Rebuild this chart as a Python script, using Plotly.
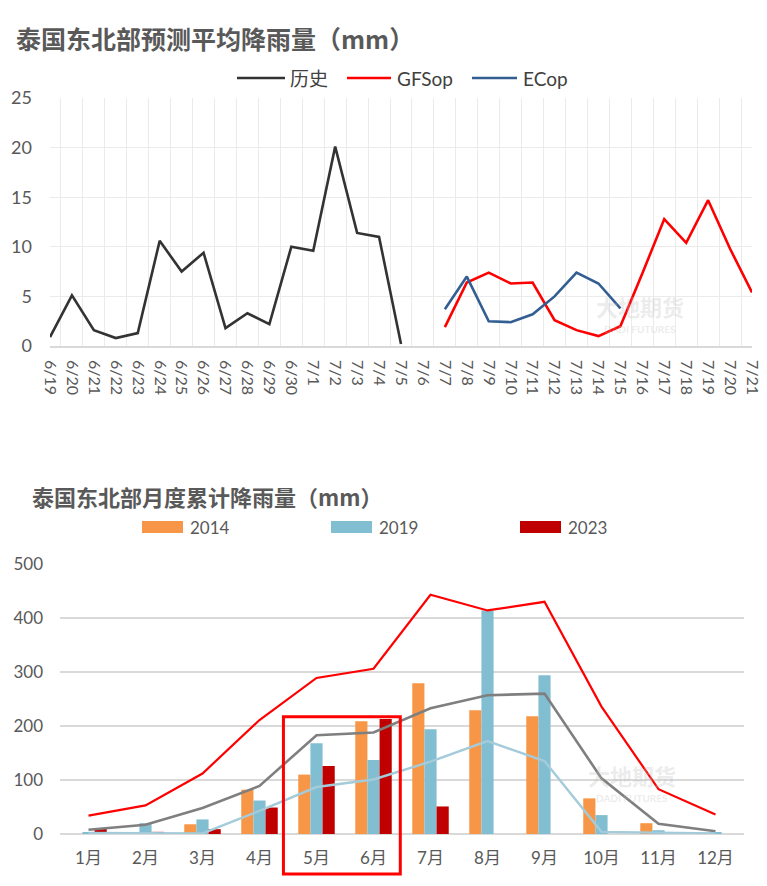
import plotly.graph_objects as go

# ---------------- data: top chart ----------------
dates = ["6/19", "6/20", "6/21", "6/22", "6/23", "6/24", "6/25", "6/26", "6/27", "6/28",
         "6/29", "6/30", "7/1", "7/2", "7/3", "7/4", "7/5", "7/6", "7/7", "7/8", "7/9",
         "7/10", "7/11", "7/12", "7/13", "7/14", "7/15", "7/16", "7/17", "7/18", "7/19",
         "7/20", "7/21"]
hist = [0.9, 5.1, 1.6, 0.8, 1.3, 10.6, 7.5, 9.4, 1.8, 3.3, 2.2, 10.0, 9.6, 20.1, 11.4, 11.0, 0.2,
        None, None, None, None, None, None, None, None, None, None, None, None, None, None, None, None]
gfs = [None] * 18 + [1.9, 6.4, 7.4, 6.3, 6.4, 2.6, 1.6, 1.0, 2.0, 7.3, 12.8, 10.4, 14.7, 9.8, 5.4]
ecm = [None] * 18 + [3.7, 7.0, 2.5, 2.4, 3.2, 5.0, 7.4, 6.3, 3.8] + [None] * 6

# ---------------- data: bottom chart ----------------
months = ["1月", "2月", "3月", "4月", "5月", "6月", "7月", "8月", "9月", "10月", "11月", "12月"]
y2014 = [0, 0, 18, 82, 110, 209, 279, 229, 218, 66, 20, 0]
y2019 = [2, 20, 27, 62, 168, 137, 194, 414, 294, 35, 7, 2]
y2023 = [10, 4, 9, 49, 126, 213, 51, None, None, None, None, None]
max_line = [34, 53, 112, 211, 289, 306, 443, 414, 430, 236, 83, 36]
avg_line = [8, 17, 48, 89, 183, 188, 233, 257, 260, 103, 19, 5]
min_line = [2, 1, 1, 43, 87, 101, 134, 172, 135, 4, 2, 1]

W, H = 767, 886
LAT = "Lato, 'Noto Sans CJK SC', sans-serif"
CJK = "'Noto Sans CJK SC', sans-serif"
TXT = "#595959"


def px(x):
    return x / W


def py(y):
    return 1 - y / H


fig = go.Figure()

# top chart traces
fig.add_trace(go.Scatter(x=dates, y=hist, mode="lines", line=dict(color="#333333", width=2.6),
                         xaxis="x", yaxis="y", showlegend=False, connectgaps=False))
fig.add_trace(go.Scatter(x=dates, y=gfs, mode="lines", line=dict(color="#FF0000", width=2.6),
                         xaxis="x", yaxis="y", showlegend=False))
fig.add_trace(go.Scatter(x=dates, y=ecm, mode="lines", line=dict(color="#335E92", width=2.6),
                         xaxis="x", yaxis="y", showlegend=False))

# bottom chart traces
fig.add_trace(go.Bar(x=months, y=y2014, marker=dict(color="#F79646", line=dict(width=0)),
                     xaxis="x2", yaxis="y2", showlegend=False))
fig.add_trace(go.Bar(x=months, y=y2019, marker=dict(color="#82BED2", line=dict(width=0)),
                     xaxis="x2", yaxis="y2", showlegend=False))
fig.add_trace(go.Bar(x=months, y=y2023, marker=dict(color="#C00000", line=dict(width=0)),
                     xaxis="x2", yaxis="y2", showlegend=False))
fig.add_trace(go.Scatter(x=months, y=max_line, mode="lines", line=dict(color="#FF0000", width=2.2),
                         xaxis="x2", yaxis="y2", showlegend=False))
fig.add_trace(go.Scatter(x=months, y=avg_line, mode="lines", line=dict(color="#7F7F7F", width=2.6),
                         xaxis="x2", yaxis="y2", showlegend=False))
fig.add_trace(go.Scatter(x=months, y=min_line, mode="lines", line=dict(color="#A3CBDA", width=2.4),
                         xaxis="x2", yaxis="y2", showlegend=False))

fig.update_layout(
    template="none",
    width=W, height=H,
    margin=dict(l=0, r=0, t=0, b=0, pad=0),
    paper_bgcolor="white", plot_bgcolor="white",
    barmode="group", bargap=0.36, bargroupgap=0,
    xaxis=dict(domain=[px(50), px(752)], type="category", tickson="boundaries",
               showgrid=True, gridcolor="#EBEBEB", gridwidth=1,
               showline=True, linecolor="#D9D9D9", linewidth=1.5,
               ticks="", tickangle=90, tickfont=dict(family=LAT, size=16, color=TXT),
               ticklabelstandoff=9, anchor="y", fixedrange=True, automargin=False),
    yaxis=dict(domain=[py(346), py(98)], range=[0, 25], dtick=5,
               showgrid=True, gridcolor="#EBEBEB", gridwidth=1, zeroline=False,
               showline=False,
               tickfont=dict(family=LAT, size=18, color=TXT), ticks="",
               ticklabelstandoff=17, anchor="x", fixedrange=True, automargin=False),
    xaxis2=dict(domain=[px(60), px(744)], type="category", showgrid=False,
                showline=False, ticks="", tickfont=dict(family=LAT, size=17, color=TXT),
                ticklabelstandoff=12, anchor="y2", fixedrange=True, automargin=False),
    yaxis2=dict(domain=[py(834), py(564)], range=[0, 500], dtick=100,
                showgrid=True, gridcolor="#D9D9D9", gridwidth=1.5, zeroline=True,
                zerolinecolor="#D9D9D9", zerolinewidth=1.5, showline=False,
                tickfont=dict(family=LAT, size=17, color=TXT), ticks="",
                ticklabelstandoff=16, anchor="x2", fixedrange=True, automargin=False),
)

annotations = []
shapes = []

# titles
annotations.append(dict(text="<b>泰国东北部预测平均降雨量（mm）</b>", xref="paper", yref="paper",
                        x=px(14), y=py(38), xanchor="left", yanchor="middle", showarrow=False,
                        font=dict(family=CJK, size=25, color=TXT)))
annotations.append(dict(text="<b>泰国东北部月度累计降雨量（mm）</b>", xref="paper", yref="paper",
                        x=px(30), y=py(496), xanchor="left", yanchor="middle", showarrow=False,
                        font=dict(family=CJK, size=22, color=TXT)))

# top legend (manual)
top_leg = [("历史", "#333333", 237, 285, 288), ("GFSop", "#FF0000", 347, 391, 395),
           ("ECop", "#335E92", 472, 517, 521)]
for name, col, x0, x1, tx in top_leg:
    shapes.append(dict(type="line", xref="paper", yref="paper", x0=px(x0), x1=px(x1),
                       y0=py(78), y1=py(78), line=dict(color=col, width=2.6)))
    annotations.append(dict(text=name, xref="paper", yref="paper", x=px(tx), y=py(78),
                            xanchor="left", yanchor="middle", showarrow=False,
                            font=dict(family=LAT, size=19, color="#404040")))

# bottom legend (manual)
bot_leg = [("2014", "#F79646", 142, 183, 188), ("2019", "#82BED2", 331, 372, 377),
           ("2023", "#C00000", 520, 561, 566)]
for name, col, x0, x1, tx in bot_leg:
    shapes.append(dict(type="rect", xref="paper", yref="paper", x0=px(x0), x1=px(x1),
                       y0=py(533), y1=py(521), fillcolor=col, line=dict(width=0)))
    annotations.append(dict(text=name, xref="paper", yref="paper", x=px(tx), y=py(527),
                            xanchor="left", yanchor="middle", showarrow=False,
                            font=dict(family=LAT, size=17, color=TXT)))

# highlight rectangle around 5月-6月
n = len(months)
i5 = months.index("5月")
i6 = months.index("6月")
shapes.append(dict(type="rect", xref="x2 domain", yref="y2 domain",
                   x0=(i5 - 0.58 + 0.5) / n, x1=(i6 + 0.47 + 0.5) / n,
                   y0=-0.148, y1=217 / 500,
                   line=dict(color="#FF0000", width=3), fillcolor="rgba(0,0,0,0)",
                   layer="above"))

# watermarks
for (cx, cy1, cy2) in [(640, 306, 329), (632, 775, 798)]:
    annotations.append(dict(text="<b>大地期货</b>", xref="paper", yref="paper", x=px(cx), y=py(cy1),
                            xanchor="center", yanchor="middle", showarrow=False,
                            font=dict(family=CJK, size=22, color="rgba(190,190,190,0.30)")))
    annotations.append(dict(text="<b>DADI FUTURES</b>", xref="paper", yref="paper", x=px(cx), y=py(cy2),
                            xanchor="center", yanchor="middle", showarrow=False,
                            font=dict(family=LAT, size=10, color="rgba(190,190,190,0.30)")))

fig.update_layout(annotations=annotations, shapes=shapes)

fig.write_html("out.html")
